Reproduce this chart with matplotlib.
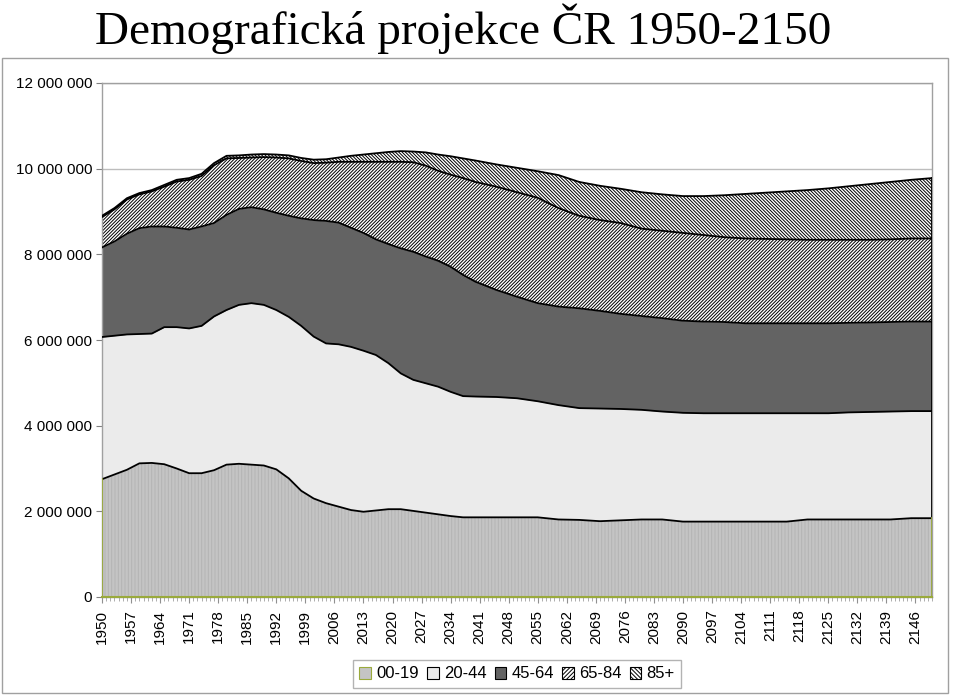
import numpy as np
import matplotlib.pyplot as plt
from matplotlib.patches import Patch, Rectangle
from matplotlib.ticker import FuncFormatter, MultipleLocator

# roky a velikost vekovych skupin (tisice osob)
roky = [1950, 1953, 1956, 1959, 1962, 1965, 1968, 1971, 1974, 1977, 1980, 1983,
        1986, 1989, 1992, 1995, 1998, 2001, 2004, 2007, 2010, 2013, 2016, 2019,
        2022, 2025, 2028, 2031, 2034, 2037, 2040, 2045, 2050, 2055, 2060, 2065,
        2070, 2075, 2080, 2085, 2090, 2095, 2100, 2105, 2110, 2115, 2120, 2125,
        2130, 2135, 2140, 2145, 2150]

vek_00_19 = [2750, 2860, 2970, 3120, 3130, 3100, 3000, 2890, 2890, 2960, 3090, 3110,
             3090, 3070, 2980, 2770, 2480, 2300, 2190, 2110, 2030, 1990, 2020, 2050,
             2050, 2010, 1970, 1930, 1890, 1860, 1860, 1860, 1860, 1860, 1810, 1800,
             1770, 1790, 1810, 1810, 1760, 1760, 1760, 1760, 1760, 1760, 1810, 1810,
             1810, 1810, 1810, 1840, 1840]
vek_20_44 = [3320, 3240, 3160, 3020, 3020, 3200, 3300, 3380, 3440, 3590, 3610, 3710,
             3770, 3750, 3720, 3770, 3850, 3780, 3730, 3790, 3810, 3760, 3630, 3410,
             3170, 3060, 3020, 2980, 2900, 2830, 2820, 2810, 2780, 2710, 2670, 2610,
             2630, 2600, 2560, 2520, 2540, 2530, 2530, 2530, 2530, 2530, 2480, 2480,
             2500, 2510, 2520, 2500, 2500]
vek_45_64 = [2090, 2200, 2350, 2470, 2500, 2350, 2320, 2310, 2320, 2180, 2220, 2240,
             2240, 2230, 2270, 2360, 2510, 2720, 2860, 2840, 2780, 2750, 2700, 2780,
             2920, 2990, 2960, 2940, 2920, 2830, 2680, 2500, 2370, 2290, 2300, 2330,
             2280, 2220, 2190, 2180, 2150, 2140, 2130, 2100, 2100, 2100, 2100, 2100,
             2090, 2090, 2090, 2090, 2090]
vek_65_84 = [710, 750, 800, 790, 820, 930, 1080, 1160, 1180, 1350, 1320, 1190,
             1160, 1220, 1290, 1340, 1340, 1330, 1360, 1420, 1540, 1660, 1810, 1920,
             2020, 2090, 2120, 2100, 2150, 2260, 2330, 2410, 2440, 2460, 2300, 2160,
             2120, 2120, 2040, 2040, 2050, 2020, 1980, 1980, 1970, 1960, 1950, 1950,
             1940, 1930, 1930, 1940, 1940]
vek_85 = [30, 30, 30, 30, 30, 40, 40, 40, 50, 50, 60, 60,
          70, 70, 70, 70, 70, 80, 80, 100, 140, 170, 200, 230,
          250, 250, 310, 380, 430, 460, 500, 520, 570, 620, 770, 790,
          800, 800, 850, 850, 860, 910, 980, 1040, 1080, 1120, 1160, 1200,
          1250, 1300, 1340, 1370, 1410]

skupiny = ['00-19', '20-44', '45-64', '65-84', '85+']
popisky_x = list(range(1950, 2150, 7))

plt.rcParams['font.family'] = ['Liberation Sans', 'DejaVu Sans']
plt.rcParams['hatch.linewidth'] = 0.7

fig = plt.figure(figsize=(9.6, 6.96), dpi=100)
ax = fig.add_axes([102/960, 1-597/696, 830/960, 514/696])

# vzhled jednotlivych vrstev
barvy = ['#c4c4c4', '#ebebeb', '#636363', 'white', 'white']
srafy = ['|' * 5, None, None, '/' * 10, '\\' * 10]
barvy_srafu = ['#b4b4b4', '#ebebeb', '#636363', 'black', 'black']

data = np.array([vek_00_19, vek_20_44, vek_45_64, vek_65_84, vek_85]) * 1000.0
spodek = np.zeros(len(roky))
for i in range(len(skupiny)):
    vrch = spodek + data[i]
    ax.fill_between(roky, spodek, vrch, facecolor=barvy[i], edgecolor=barvy_srafu[i],
                    hatch=srafy[i], linewidth=0, zorder=2)
    ax.plot(roky, vrch, color='black', lw=1.3, zorder=3)
    if i > 0:
        ax.plot([roky[-1], roky[-1]], [spodek[-1], vrch[-1]], color='black', lw=1.3, zorder=3)
    spodek = vrch

# zeleny okraj spodni vrstvy
zelena = '#9aaa3c'
ax.plot([roky[0], roky[0]], [0, data[0][0]], color=zelena, lw=1.3, zorder=3)
ax.plot([roky[-1], roky[-1]], [0, data[0][-1]], color=zelena, lw=1.3, zorder=3)
ax.plot([roky[0], roky[-1]], [0, 0], color=zelena, lw=1.5, zorder=3, clip_on=False)

ax.set_xlim(1950, 2150)
ax.set_ylim(0, 12000000)

ax.yaxis.set_major_locator(MultipleLocator(2000000))
ax.yaxis.set_major_formatter(FuncFormatter(lambda v, p: '{:,}'.format(int(v)).replace(',', ' ')))
ax.yaxis.grid(True, color='#bdbdbd', lw=1.0, zorder=0)
ax.set_axisbelow(True)

ax.set_xticks(popisky_x)
ax.set_xticklabels([str(r) for r in popisky_x], rotation=90)
ax.set_xticks(range(1950, 2151), minor=True)

ax.tick_params(axis='y', labelsize=11, length=4, color='#808080', pad=3)
ax.tick_params(axis='x', which='major', labelsize=11, length=4, color='#909090', pad=5)
ax.tick_params(axis='x', which='minor', length=3, color='#a0a0a0')

for s in ['left', 'right', 'top', 'bottom']:
    ax.spines[s].set_color('#a0a0a0')
    ax.spines[s].set_linewidth(1.0)

# ramecek oblasti grafu
fig.patches.append(Rectangle((2/960, 1-693/696), 946/960, 635/696, transform=fig.transFigure,
                             fill=False, edgecolor='#a0a0a0', lw=1.0))

fig.text(463/960, 1-29/696, 'Demografická projekce ČR 1950-2150', ha='center', va='center',
         family='Liberation Serif', fontsize=34)

handles = []
legenda_srafy = [None, None, None, '/' * 8, '\\' * 8]
for i in range(len(skupiny)):
    okraj = zelena if i == 0 else 'black'
    handles.append(Patch(facecolor=barvy[i], edgecolor=okraj, hatch=legenda_srafy[i], linewidth=0.8))
fig.legend(handles, skupiny, loc='center', bbox_to_anchor=(517/960, 1-674/696), ncol=5,
           frameon=True, fancybox=False, edgecolor='#a0a0a0', fontsize=12,
           handlelength=0.7, handleheight=0.7, handletextpad=0.3, columnspacing=0.5,
           borderpad=0.4)

fig.savefig('out.png', dpi=100)
